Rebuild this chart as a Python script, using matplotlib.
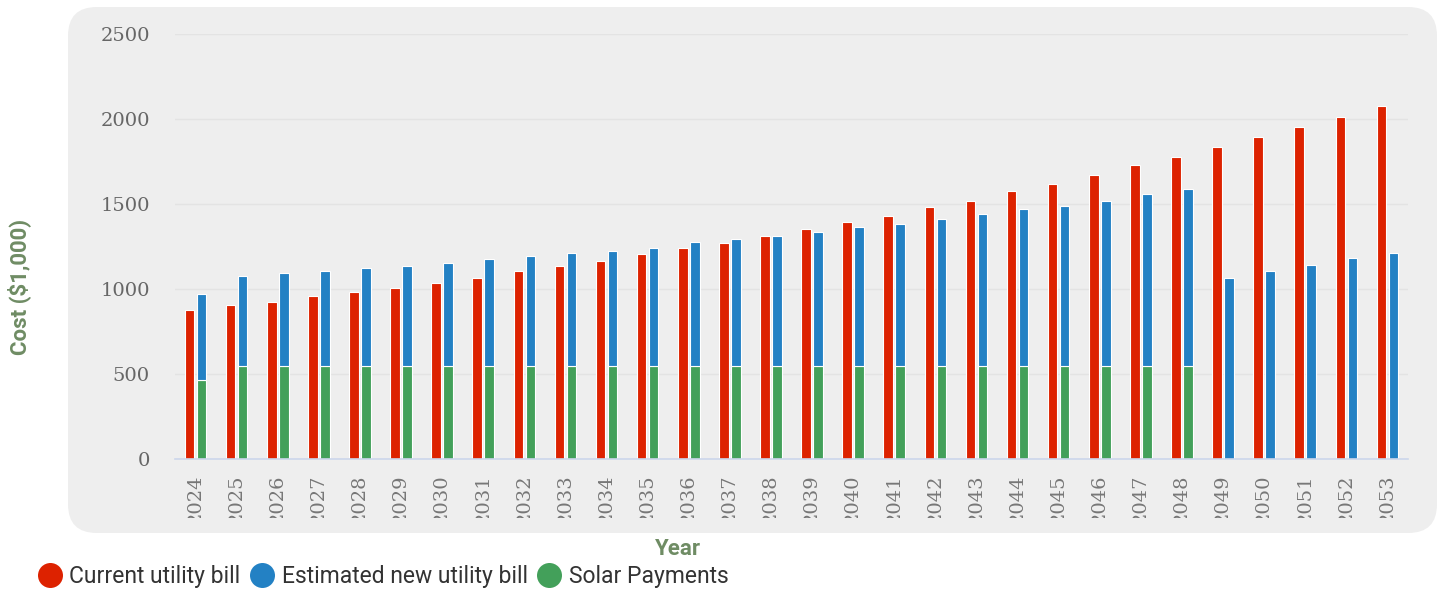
import numpy as np
import matplotlib.pyplot as plt
from matplotlib.patches import FancyBboxPatch
from matplotlib.lines import Line2D
from matplotlib.transforms import Bbox, TransformedBbox

# --- Dati ---
anni = [str(a) for a in range(2024, 2054)]
bolletta_attuale = [875, 905, 924, 956, 983, 1005, 1034, 1064, 1103, 1135,
                    1164, 1204, 1243, 1273, 1312, 1353, 1393, 1432, 1481, 1520,
                    1579, 1618, 1668, 1727, 1776, 1837, 1896, 1955, 2014, 2075]
bolletta_nuova = [508, 524, 542, 553, 573, 585, 604, 624, 644, 663,
                  673, 693, 724, 742, 762, 784, 813, 833, 862, 892,
                  921, 941, 970, 1010, 1039, 1064, 1103, 1143, 1182, 1211]
pagamenti_solare = [465] + [550] * 24 + [0] * 5

col_rosso = '#dd2200'
col_blu = '#2381c4'
col_verde = '#43a05a'
col_etichetta = '#6f8c64'

# --- Figura ---
fig = plt.figure(figsize=(14.41, 5.92), dpi=100)
fig.patch.set_facecolor('white')

pannello = FancyBboxPatch((68 / 1441, 59 / 592), 1369 / 1441, 526 / 592,
                          boxstyle='round,pad=0,rounding_size=0.02',
                          transform=fig.transFigure, facecolor='#eeeeee',
                          edgecolor='none', mutation_aspect=1441 / 592, zorder=-1)
fig.patches.append(pannello)

ax = fig.add_axes([175 / 1441, 133 / 592, 1233 / 1441, 425 / 592])
ax.set_facecolor('none')
ax.set_zorder(1)

x = np.arange(len(anni))
w = 0.235
d = 0.146
ax.bar(x - d, bolletta_attuale, width=w, color=col_rosso, edgecolor='white',
       linewidth=0.8, zorder=3)
ax.bar(x + d, pagamenti_solare, width=w, color=col_verde, edgecolor='white',
       linewidth=0.8, zorder=3)
ax.bar(x + d, bolletta_nuova, width=w, bottom=pagamenti_solare, color=col_blu,
       edgecolor='white', linewidth=0.8, zorder=3)

ax.set_xlim(-0.5, len(anni) - 0.5)
ax.set_ylim(0, 2500)
ax.set_yticks(range(0, 2501, 500))
ax.grid(axis='y', color='#e3e3e3', linewidth=1, zorder=0)
ax.set_axisbelow(True)

for lato in ['top', 'right', 'left']:
    ax.spines[lato].set_visible(False)
ax.spines['bottom'].set_color('#ccd6eb')
ax.spines['bottom'].set_linewidth(1.2)
ax.spines['bottom'].set_zorder(4)

ax.set_xticks(x)
ax.set_xticklabels(anni, rotation=90, family='DejaVu Serif', fontsize=14,
                   color='#777777')
ax.tick_params(axis='x', length=0, pad=11)
ax.tick_params(axis='y', length=0, pad=18, labelsize=14, labelcolor='#666666')
for lbl in ax.get_yticklabels():
    lbl.set_family('DejaVu Serif')

# etichette anni tagliate dal bordo del pannello
clip = TransformedBbox(Bbox([[0, 74 / 592], [1, 1]]), fig.transFigure)
for tick in ax.xaxis.get_major_ticks():
    tick.label1.set_clip_box(clip)
    tick.label1.set_clip_on(True)

ax.set_ylabel('Cost ($1,000)', family='Roboto', fontweight='bold', fontsize=16,
              color=col_etichetta)
ax.yaxis.set_label_coords(-0.117, 0.405)
ax.set_xlabel('Year', family='Roboto', fontweight='bold', fontsize=16,
              color=col_etichetta)
ax.xaxis.set_label_coords(0.408, -0.186)

# --- Legenda ---
maniglie = [Line2D([], [], marker='o', linestyle='none', markersize=18,
                   markerfacecolor=c, markeredgecolor='none')
            for c in (col_rosso, col_blu, col_verde)]
fig.legend(maniglie, ['Current utility bill', 'Estimated new utility bill', 'Solar Payments'],
           loc='center left', bbox_to_anchor=(12 / 1441, 1 - 577 / 592), ncol=3,
           frameon=False, handletextpad=0.1, columnspacing=0.2, handlelength=1.5,
           prop={'family': 'Roboto', 'size': 16.5}, labelcolor='#333333')

fig.savefig('out.png', dpi=100)
